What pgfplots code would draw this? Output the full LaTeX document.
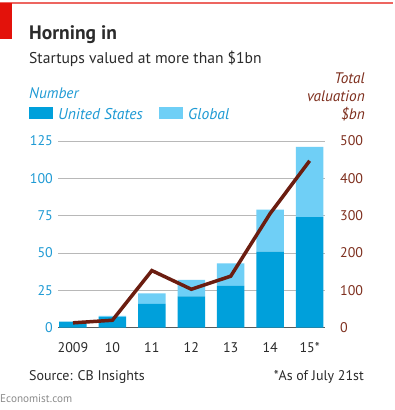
\documentclass[border=0pt]{standalone}
\usepackage{pgfplots}
\pgfplotsset{compat=1.18}
\usepackage{fontspec}
\setmainfont{PT Sans}
\definecolor{usblue}{HTML}{00A0DB}
\definecolor{glblue}{HTML}{6FCFF6}
\definecolor{lineb}{HTML}{6B1D10}
\definecolor{ticklb}{HTML}{1E9AD4}
\definecolor{tickrb}{HTML}{7E2F1E}
\definecolor{ered}{HTML}{E3120B}
\definecolor{txt}{HTML}{2B2B2B}
\begin{document}
\begin{tikzpicture}
\path[fill=white] (0pt,0pt) rectangle (395pt,-410pt);
\fill[ered!65] (0pt,-2.3pt) rectangle (393pt,-3.8pt);
\fill[ered] (0pt,-3pt) rectangle (12pt,-39pt);
\node[anchor=base west, inner sep=0, font=\bfseries\fontsize{19.5}{24}\selectfont, text=txt] at (29pt,-39pt) {Horning in};
\node[anchor=base west, inner sep=0, font=\fontsize{15.6}{18}\selectfont, text=txt] at (29pt,-63pt) {Startups valued at more than \$1bn};
\node[anchor=base west, inner sep=0, font=\itshape\fontsize{15.3}{18}\selectfont, text=ticklb] at (29pt,-98pt) {Number};
\fill[usblue] (29pt,-107pt) rectangle (53pt,-119pt);
\node[anchor=base west, inner sep=0, font=\itshape\fontsize{15.6}{18}\selectfont, text=ticklb] at (58pt,-119pt) {United States};
\fill[glblue] (159pt,-107pt) rectangle (183pt,-119pt);
\node[anchor=base west, inner sep=0, font=\itshape\fontsize{15.6}{18}\selectfont, text=ticklb] at (188pt,-119pt) {Global};
\node[anchor=base east, inner sep=0, font=\itshape\fontsize{15.3}{18}\selectfont, text=tickrb] at (365pt,-83pt) {Total};
\node[anchor=base east, inner sep=0, font=\itshape\fontsize{15.3}{18}\selectfont, text=tickrb] at (365pt,-101pt) {valuation};
\node[anchor=base east, inner sep=0, font=\itshape\fontsize{15.3}{18}\selectfont, text=tickrb] at (365pt,-119pt) {\$bn};
\node[anchor=base west, inner sep=0, font=\fontsize{14}{17}\selectfont, text=txt] at (29pt,-380pt) {Source: CB Insights};
\node[anchor=base east, inner sep=0, font=\fontsize{14}{17}\selectfont, text=txt] at (364pt,-380pt) {*As of July 21st};
\node[anchor=base west, inner sep=0, font=\fontsize{11.2}{14}\selectfont, text=black!45] at (0pt,-402pt) {Economist.com};
\begin{axis}[
  at={(58pt,-327.7pt)}, anchor=south west, scale only axis,
  width=267pt, height=186.7pt,
  xmin=-0.38, xmax=6.39, ymin=0, ymax=125,
  ybar stacked, bar width=27.5pt,
  axis x line*=bottom, axis y line*=left,
  y axis line style={draw=none},
  x axis line style={draw=black!65, line width=1.4pt},
  xtick={0,...,6}, xticklabels={2009,10,11,12,13,14,15*},
  ytick={0,25,...,125},
  major tick length=0pt,
  ymajorgrids, grid style={black!28, line width=0.9pt},
  /pgf/number format/assume math mode=true,
  tick label style={font=\fontsize{14}{17}\selectfont, inner sep=0pt},
  yticklabel style={anchor=east, xshift=-5pt, text=ticklb},
  xticklabel style={anchor=base, yshift=-24.5pt, text=txt},
]
\addplot[fill=usblue, draw=none] coordinates {(0,4) (1,7) (2,16) (3,21) (4,28) (5,51) (6,74)};
\addplot[fill=glblue, draw=none] coordinates {(0,0) (1,1) (2,7) (3,11) (4,15) (5,28) (6,47)};
\end{axis}
\begin{axis}[
  at={(58pt,-327.7pt)}, anchor=south west, scale only axis,
  width=267pt, height=186.7pt,
  xmin=-0.38, xmax=6.39, ymin=0, ymax=500,
  axis x line=none, axis y line*=right,
  y axis line style={draw=none},
  ytick={0,100,...,500},
  major tick length=0pt,
  /pgf/number format/assume math mode=true,
  tick label style={font=\fontsize{14}{17}\selectfont, inner sep=0pt},
  yticklabel style={anchor=west, xshift=15pt, text=tickrb},
]
\addplot[lineb, line width=3.5pt, mark=none] coordinates {(0,13) (1,20) (2,153) (3,103) (4,138) (5,306) (6,447)};
\end{axis}
\end{tikzpicture}
\end{document}
